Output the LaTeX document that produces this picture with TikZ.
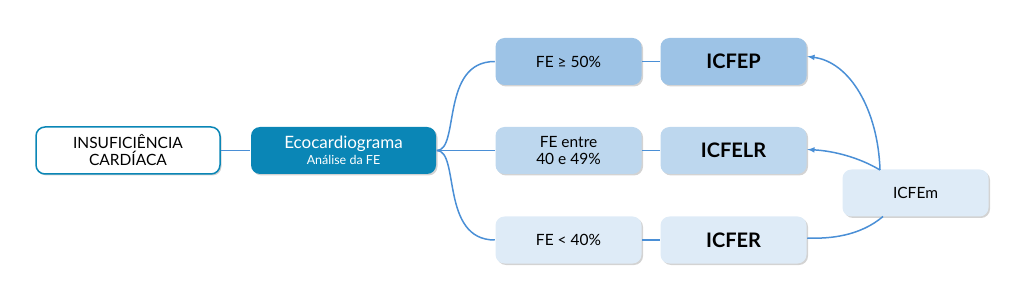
\documentclass[tikz,border=0pt]{standalone}
\usepackage{fontspec}
\setmainfont{Lato}
\usetikzlibrary{shadows}
\definecolor{teal1}{HTML}{0A86B6}
\definecolor{line1}{HTML}{4A8FD6}
\definecolor{blueA}{HTML}{9DC3E6}
\definecolor{blueB}{HTML}{BDD7EE}
\definecolor{blueC}{HTML}{DEEBF7}
\begin{document}
\begin{tikzpicture}[x=1pt, y=-1pt, >=latex, line width=1.5pt,
    box/.style={rounded corners=9pt, minimum width=146pt, minimum height=47pt,
        align=center, font=\fontsize{15.5}{17}\selectfont,
        drop shadow={shadow xshift=1.5pt, shadow yshift=-1.5pt, opacity=0.35}},
    res/.style={box, font=\fontsize{20}{22}\selectfont\bfseries},
    link/.style={draw=line1}]
    \useasboundingbox (0,0) rectangle (1024,304);

    \node[box, fill=white, draw=teal1, minimum width=184pt] (ic) at (128,150.5) {INSUFICIÊNCIA\\CARDÍACA};
    \node[box, fill=teal1, text=white, minimum width=185pt] (eco) at (343.5,150.5)
        {\fontsize{17}{18}\selectfont Ecocardiograma\\[-1pt]\fontsize{12.5}{14}\selectfont Análise da FE};

    \node[box, fill=blueA] (fe50) at (568.5,61.5) {FE ≥ 50\%};
    \node[box, fill=blueB] (fe40) at (568.5,150.5) {FE entre\\40 e 49\%};
    \node[box, fill=blueC] (fe0)  at (568.5,240) {FE < 40\%};

    \node[res, fill=blueA] (icfep)  at (733.5,61.5) {ICFEP};
    \node[res, fill=blueB] (icfelr) at (733.5,150.5) {ICFELR};
    \node[res, fill=blueC] (icfer)  at (733.5,240) {ICFER};

    \node[box, fill=blueC] (icfem) at (915.5,193) {ICFEm};

    \draw[link] (ic) -- (eco);
    \draw[link] (eco.east) .. controls (460,150.5) and (440,61.5) .. (fe50.west);
    \draw[link] (eco.east) -- (fe40.west);
    \draw[link] (eco.east) .. controls (460,150.5) and (440,240) .. (fe0.west);

    \draw[link] (fe50) -- (icfep);
    \draw[link] (fe40) -- (icfelr);
    \draw[link] (fe0) -- (icfer);

    \coordinate (top) at (880,170);
    \draw[link, ->] (top) .. controls (878,110) and (850,62) .. ([yshift=5pt]icfep.east);
    \draw[link, ->] (top) .. controls (860,158) and (835,151) .. ([yshift=1pt]icfelr.east);
    \draw[link] (883,216.5) .. controls (860,236) and (830,239) .. ([yshift=2pt]icfer.east);
\end{tikzpicture}
\end{document}
